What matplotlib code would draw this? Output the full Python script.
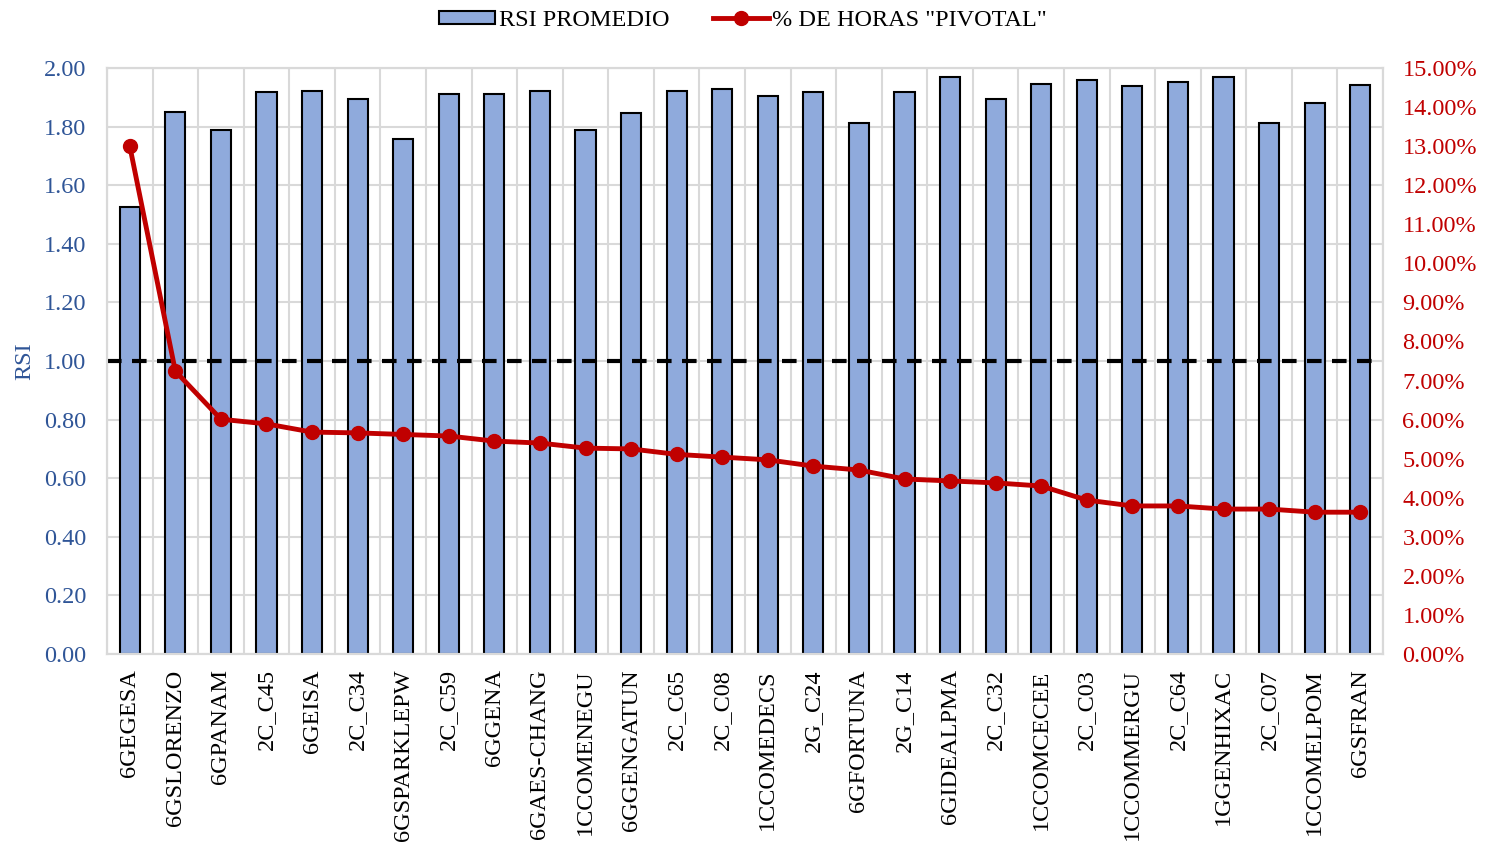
import numpy as np
import matplotlib
matplotlib.use('Agg')
import matplotlib.pyplot as plt
from matplotlib.ticker import FuncFormatter, MultipleLocator

plt.rcParams.update({'font.family': ['Liberation Serif', 'DejaVu Serif'],
                     'font.size': 17.5})

centrales = ['6GEGESA', '6GSLORENZO', '6GPANAM', '2C_C45', '6GEISA', '2C_C34',
             '6GSPARKLEPW', '2C_C59', '6GGENA', '6GAES-CHANG', '1CCOMENEGU',
             '6GGENGATUN', '2C_C65', '2C_C08', '1CCOMEDECS', '2G_C24', '6GFORTUNA',
             '2G_C14', '6GIDEALPMA', '2C_C32', '1CCOMCECEE', '2C_C03', '1CCOMMERGU',
             '2C_C64', '1GGENHIXAC', '2C_C07', '1CCOMELPOM', '6GSFRAN']
rsi_promedio = [1.525, 1.850, 1.788, 1.918, 1.920, 1.894, 1.758, 1.911, 1.913,
                1.920, 1.790, 1.846, 1.920, 1.930, 1.903, 1.918, 1.812, 1.918,
                1.969, 1.894, 1.945, 1.959, 1.938, 1.952, 1.969, 1.812, 1.880, 1.942]
pct_pivotal = [13.00, 7.24, 6.01, 5.89, 5.68, 5.66, 5.62, 5.58, 5.45, 5.40, 5.27,
               5.25, 5.11, 5.04, 4.97, 4.81, 4.71, 4.48, 4.43, 4.38, 4.30, 3.94,
               3.79, 3.79, 3.71, 3.71, 3.63, 3.63]
umbral_rsi = 1.0

blue_txt = '#2F5597'
red = '#C00000'
grid_c = '#D9D9D9'

fig = plt.figure(figsize=(14.86, 8.43), dpi=100)
ax = fig.add_axes([0.072, 0.2242, 0.8587, 0.6951])
ax2 = ax.twinx()

x = np.arange(len(centrales))
b = ax.bar(x, rsi_promedio, width=0.44, color='#8FAADC', edgecolor='black',
           linewidth=1.5, zorder=2, label='RSI PROMEDIO')
ax.axhline(umbral_rsi, color='black', lw=3, ls=(0, (3.5, 2.5)), zorder=3)

ax.set_xlim(-0.5, len(centrales) - 0.5)
ax.set_ylim(0, 2.0)
ax.yaxis.set_major_locator(MultipleLocator(0.2))
ax.yaxis.set_major_formatter(FuncFormatter(lambda v, p: f'{v:.2f}'))
ax.set_xticks(x)
ax.set_xticklabels(centrales, rotation=90)
ax.set_xticks(np.arange(-0.5, len(centrales), 1), minor=True)
ax.grid(True, which='minor', axis='x', color=grid_c, lw=1.5, zorder=0)
ax.grid(True, which='major', axis='y', color=grid_c, lw=1.5, zorder=0)
ax.tick_params(axis='both', which='both', length=0)
ax.tick_params(axis='y', colors=blue_txt, pad=15)
ax.tick_params(axis='x', pad=11)
ax.set_ylabel('RSI', color=blue_txt, labelpad=6)

l, = ax2.plot(x, pct_pivotal, color=red, lw=3.5, marker='o', markersize=10,
              zorder=4, label='% DE HORAS "PIVOTAL"')
ax2.set_ylim(0, 15)
ax2.yaxis.set_major_locator(MultipleLocator(1))
ax2.yaxis.set_major_formatter(FuncFormatter(lambda v, p: f'{v:.2f}%'))
ax2.tick_params(axis='y', colors=red, length=0, pad=14)

for a in (ax, ax2):
    for s in a.spines.values():
        s.set_color(grid_c)
        s.set_linewidth(1.5)

fig.legend([b, l], ['RSI PROMEDIO', '% DE HORAS "PIVOTAL"'], loc='upper center',
           bbox_to_anchor=(0.5, 1.014), ncol=2, frameon=False, fontsize=17.5,
           handlelength=2.3, handleheight=0.5, handletextpad=0.15, columnspacing=1.8)

fig.savefig('out.png', dpi=100)
